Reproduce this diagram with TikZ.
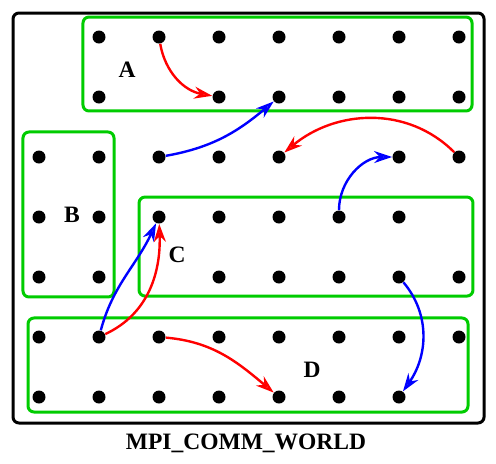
\documentclass[tikz,border=0pt]{standalone}
\usepackage{fontspec}
\setmainfont{Liberation Serif}
\usetikzlibrary{arrows.meta}
\definecolor{groupgreen}{RGB}{0,204,0}
\tikzstyle{proc}=[circle,fill=black,inner sep=0pt,minimum size=6.5pt]
\tikzstyle{group}=[draw=groupgreen,line width=1.5pt,rounded corners=3pt]
\tikzstyle{world}=[draw,line width=1.5pt,rounded corners=3pt]
\tikzstyle{msg}=[line width=1.2pt,-{Stealth[open,length=9pt,width=6pt]}]
\tikzstyle{grouplabel}=[font=\fontsize{11.75}{14}\selectfont\bfseries]

\begin{document}
\begin{tikzpicture}[x=30pt,y=30pt]
    \useasboundingbox (-0.65,0.6167) rectangle (7.6167,-7.1);

    % communicator and groups
    \draw[world] (-0.433,0.4) rectangle (7.417,-6.433);
    \draw[group] (0.733,0.333) rectangle (7.217,-1.233);
    \draw[group] (-0.267,-1.583) rectangle (1.25,-4.333);
    \draw[group] (1.667,-2.667) rectangle (7.233,-4.317);
    \draw[group] (-0.183,-4.683) rectangle (7.15,-6.25);

    % processes, row by row
    \foreach \y/\cols in {0/{1,2,3,4,5,6,7}, 1/{1,3,4,5,6,7}, 2/{0,1,2,3,4,6,7},
                          3/{0,1,2,3,4,5,6}, 4/{0,1,3,4,5,6,7}, 5/{0,1,2,3,4,5,6,7}, 6/{0,1,2,3,4,5,6}}
        \foreach \x in \cols
            \node[proc] (p\x\y) at (\x,-\y) {};

    \node[grouplabel] (labA) at (1.467,-0.55) {A};
    \node[grouplabel] (labB) at (0.55,-2.967) {B};
    \node[grouplabel] (labC) at (2.3,-3.633) {C};
    \node[grouplabel] (labD) at (4.55,-5.55) {D};
    \node[grouplabel] (title) at (3.45,-6.767) {MPI\_COMM\_WORLD};

    % messages
    \draw[msg,red]  (p20) to [out=-80, in=170] (p31);
    \draw[msg,blue] (p22) to [out=10, in=-140] (p41);
    \draw[msg,red]  (p72) to [out=135, in=40] (p42);
    \draw[msg,blue] (p53) to [out=90, in=180] (p62);
    \draw[msg,blue] (p15) to [out=75, in=-115] (p23);
    \draw[msg,red]  (p15) to [out=25, in=-88] (p23);
    \draw[msg,red]  (p25) to [out=-5, in=140] (p46);
    \draw[msg,blue] (p64) to [out=-50, in=55] (p66);
\end{tikzpicture}
\end{document}
